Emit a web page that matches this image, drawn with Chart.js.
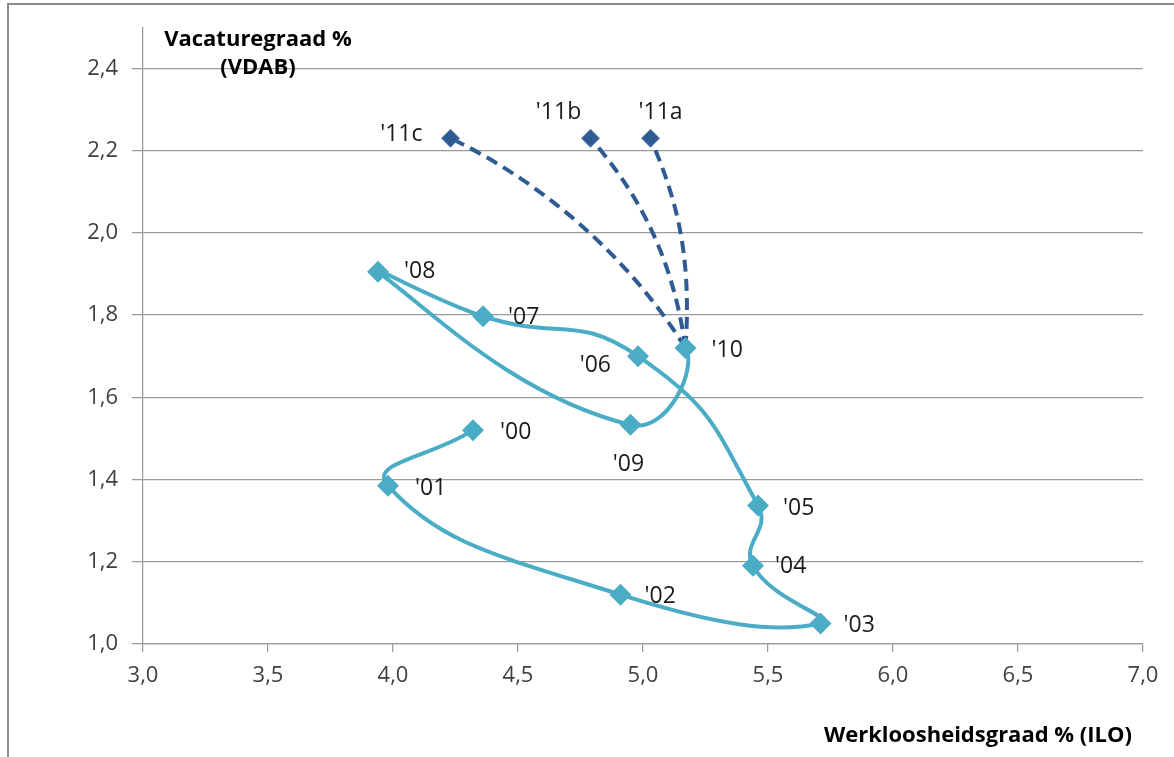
<!DOCTYPE html>
<html>
<head>
<meta charset="utf-8">
<script src="https://cdn.jsdelivr.net/npm/chart.js@4"></script>
<style>
  html, body { margin: 0; padding: 0; background: #fff; }
  #wrap { width: 1174px; height: 757px; }
</style>
</head>
<body>
<div id="wrap"><canvas id="beveridge" width="1174" height="757"></canvas></div>
<script>
// data
const years = ["'00", "'01", "'02", "'03", "'04", "'05", "'06", "'07", "'08", "'09", "'10"];
const unemployment = [4.32, 3.98, 4.91, 5.71, 5.44, 5.46, 4.98, 4.36, 3.94, 4.95, 5.17];
const vacancy = [1.52, 1.385, 1.12, 1.05, 1.19, 1.337, 1.70, 1.797, 1.905, 1.533, 1.72];
const scenarios = ["'11a", "'11b", "'11c"];
const scenarioUnemployment = [5.03, 4.79, 4.23];
const scenarioVacancy = [2.23, 2.23, 2.23];
const xTicks = [3.0, 3.5, 4.0, 4.5, 5.0, 5.5, 6.0, 6.5, 7.0];
const yTicks = [1.0, 1.2, 1.4, 1.6, 1.8, 2.0, 2.2, 2.4];

const MAIN = "#4bacc6";
const DARK = "#2f5b93";
const FONT = "'Open Sans', sans-serif";

// where each label sits relative to its marker: dx, dy, align
const labelPos = {
  "'00": [27, 2, "left"], "'01": [27, 3, "left"], "'02": [24, 2, "left"],
  "'03": [23, 2, "left"], "'04": [22, 1, "left"], "'05": [25, 3, "left"],
  "'06": [-27, 9, "right"], "'07": [25, 1, "left"], "'08": [26, 0, "left"],
  "'09": [-2, 40, "center"], "'10": [26, 3, "left"],
  "'11a": [10, -26, "center"], "'11b": [-32, -26, "center"], "'11c": [-28, -4, "right"]
};

const fmt = v => v.toFixed(1).replace(".", ",");

const extras = {
  id: "extras",
  beforeDraw(chart) {
    const ctx = chart.ctx;
    ctx.save();
    ctx.strokeStyle = "#8c8c8c";
    ctx.lineWidth = 2;
    ctx.beginPath();
    ctx.moveTo(1174, 4);
    ctx.lineTo(8, 4);
    ctx.lineTo(8, 757);
    ctx.stroke();
    ctx.restore();
  },
  // let the curves arrive at their last point bent, like the spreadsheet's smoothing
  beforeDatasetsDraw(chart) {
    chart.data.datasets.forEach((ds, i) => {
      if (!ds.endBend) return;
      const meta = chart.getDatasetMeta(i);
      meta.dataset.updateControlPoints(chart.chartArea);
      const pts = meta.data;
      const a = pts[pts.length - 2], b = pts[pts.length - 1];
      const vx = a.cp2x - a.x, vy = a.cp2y - a.y;
      const len = Math.hypot(b.x - a.x, b.y - a.y);
      const ux = (b.x - a.x) / len, uy = (b.y - a.y) / len;
      const dot = vx * ux + vy * uy;
      b.cp1x = b.x - ds.endBend * (2 * dot * ux - vx);
      b.cp1y = b.y - ds.endBend * (2 * dot * uy - vy);
    });
  },
  afterDatasetsDraw(chart) {
    const ctx = chart.ctx;
    ctx.save();
    ctx.fillStyle = "#1a1a1a";
    ctx.font = "23px " + FONT;
    ctx.textBaseline = "middle";
    const put = (txt, el) => {
      const p = labelPos[txt];
      ctx.textAlign = p[2];
      ctx.fillText(txt, el.x + p[0], el.y + p[1]);
    };
    chart.getDatasetMeta(0).data.forEach((el, i) => put(years[i], el));
    scenarios.forEach((s, k) => put(s, chart.getDatasetMeta(k + 1).data[2]));

    ctx.fillStyle = "#000";
    ctx.font = "bold 22px " + FONT;
    ctx.textAlign = "center";
    ctx.fillText("Vacaturegraad %", 258, 40);
    ctx.fillText("(VDAB)", 258, 68);
    ctx.textAlign = "right";
    ctx.fillText("Werkloosheidsgraad % (ILO)", 1132, 736);
    ctx.restore();
  }
};

const mainPoints = years.map((y, i) => ({ x: unemployment[i], y: vacancy[i] }));

// '09 is only there to give the curve its direction through '10; that segment stays invisible
const scenarioSets = scenarios.map((s, k) => ({
  label: s,
  data: [
    { x: unemployment[9], y: vacancy[9] },
    { x: unemployment[10], y: vacancy[10] },
    { x: scenarioUnemployment[k], y: scenarioVacancy[k] }
  ],
  showLine: true,
  tension: 0.5,
  endBend: 0.6,
  borderColor: DARK,
  borderWidth: 4,
  borderDash: [12, 7],
  segment: {
    borderColor: c => c.p0DataIndex === 0 ? "rgba(0,0,0,0)" : DARK
  },
  pointStyle: "rectRot",
  pointRadius: [0, 0, 9],
  pointBackgroundColor: DARK,
  pointBorderColor: "#5b82b5",
  pointBorderWidth: 1
}));

new Chart(document.getElementById("beveridge"), {
  type: "scatter",
  data: {
    datasets: [{
      label: "Vlaanderen",
      data: mainPoints,
      showLine: true,
      tension: 0.5,
      endBend: 0.6,
      borderColor: MAIN,
      borderWidth: 4,
      pointStyle: "rectRot",
      pointRadius: 11,
      pointBackgroundColor: MAIN,
      pointBorderColor: MAIN,
      pointBorderWidth: 0
    }, ...scenarioSets]
  },
  options: {
    responsive: false,
    animation: false,
    layout: { padding: { top: 25, right: 31, left: 0, bottom: 0 } },
    plugins: { legend: { display: false }, tooltip: { enabled: false } },
    scales: {
      x: {
        type: "linear",
        min: 3, max: 7,
        afterBuildTicks: s => { s.ticks = xTicks.map(v => ({ value: v })); },
        afterFit: s => { s.height = 113; },
        ticks: {
          callback: v => fmt(v),
          font: { family: FONT, size: 22 },
          color: "#404040",
          padding: 11,
          maxRotation: 0
        },
        grid: { drawOnChartArea: false, drawTicks: true, tickLength: 8, color: "#9a9a9a", lineWidth: 1.25 },
        border: { display: true, color: "#9a9a9a", width: 1.25 }
      },
      y: {
        type: "linear",
        min: 1, max: 2.5,
        afterBuildTicks: s => { s.ticks = yTicks.map(v => ({ value: v })); },
        afterFit: s => { s.width = 143; },
        ticks: {
          callback: v => fmt(v),
          font: { family: FONT, size: 22 },
          color: "#404040",
          padding: 14
        },
        grid: { color: "#9a9a9a", lineWidth: 1.25, tickLength: 11 },
        border: { display: true, color: "#9a9a9a", width: 1.25 }
      }
    }
  },
  plugins: [extras]
});
</script>
</body>
</html>
